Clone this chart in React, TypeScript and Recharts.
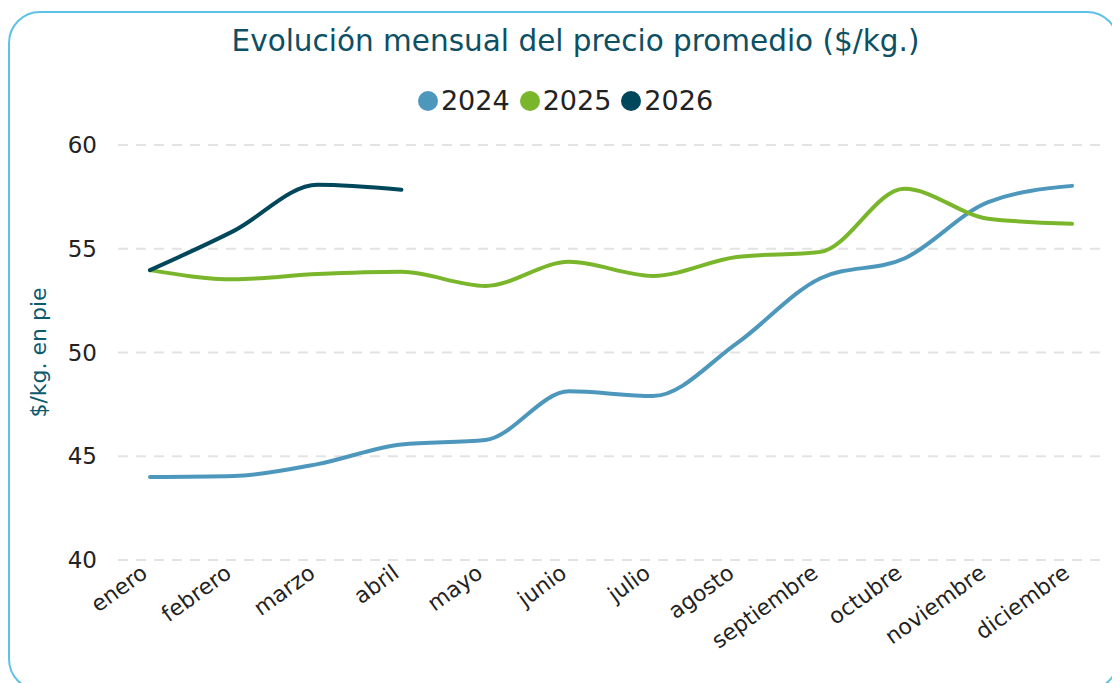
import {LineChart, Line, XAxis, YAxis, CartesianGrid, Legend} from 'recharts';

const MONTHS = [
  'enero', 'febrero', 'marzo', 'abril', 'mayo', 'junio',
  'julio', 'agosto', 'septiembre', 'octubre', 'noviembre', 'diciembre'
];

const PRICES_2024 = [44.0, 44.05, 44.62, 45.57, 45.78, 48.13, 47.9, 50.44, 53.58, 54.53, 57.25, 58.03];
const PRICES_2025 = [53.97, 53.53, 53.78, 53.89, 53.21, 54.37, 53.69, 54.6, 54.85, 57.89, 56.45, 56.2];
const PRICES_2026 = [53.97, 55.86, 58.08, 57.84];

const Y_TICKS = [40, 45, 50, 55, 60];

const SERIES = [
  {key: '2024', color: '#4d97bd'},
  {key: '2025', color: '#7ab62b'},
  {key: '2026', color: '#00475c'}
];

const FONT = '"DejaVu Sans", Verdana, sans-serif';

const data = MONTHS.map((month, i) => ({
  month,
  '2024': PRICES_2024[i],
  '2025': PRICES_2025[i],
  '2026': i < PRICES_2026.length ? PRICES_2026[i] : null
}));

const MonthTick = (props: any) => {
  const {x, y, payload} = props;
  return (
    <text
      x={0}
      y={0}
      textAnchor="end"
      transform={`translate(${x - 1},${y + 8}) rotate(-36)`}
      fill="#222"
      fontSize={22}
      fontFamily={FONT}
    >
      {payload.value}
    </text>
  );
};

const LegendContent = () => (
  <div style={{display: 'flex', justifyContent: 'center', alignItems: 'center', fontFamily: FONT, fontSize: 27, color: '#222', paddingLeft: 4}}>
    {SERIES.map(s => (
      <span key={s.key} style={{display: 'flex', alignItems: 'center', margin: '0 5px'}}>
        <span style={{width: 20, height: 20, borderRadius: 10, background: s.color, display: 'inline-block', marginRight: 3}} />
        {s.key}
      </span>
    ))}
  </div>
);

export default function App() {
  return (
    <div
      style={{
        position: 'relative',
        marginTop: 3,
        width: 1107,
        height: 676,
        border: '2px solid #5ec1e6',
        borderRadius: 32,
        background: '#fff'
      }}
    >
      <style>{'body{margin:8px;overflow:hidden;}'}</style>
      <div
        style={{
          position: 'absolute',
          top: 11,
          left: 12,
          width: '100%',
          textAlign: 'center',
          fontFamily: FONT,
          fontSize: 29.5,
          lineHeight: '35px',
          color: '#0d4f63'
        }}
      >
        Evolución mensual del precio promedio ($/kg.)
      </div>
      <LineChart width={1107} height={672} data={data} margin={{top: 132, right: 11, bottom: 25, left: 20}}>
        <CartesianGrid vertical={false} stroke="#e3e3e3" strokeDasharray="10 8" strokeWidth={2} />
        <XAxis
          dataKey="month"
          interval={0}
          tick={<MonthTick />}
          tickLine={false}
          axisLine={false}
          height={100}
          padding={{left: 32, right: 34}}
        />
        <YAxis
          domain={[40, 60]}
          ticks={Y_TICKS}
          tickLine={false}
          axisLine={false}
          width={88}
          tickMargin={15}
          tick={{fill: '#222', fontSize: 23, fontFamily: FONT}}
          label={{
            value: '$/kg. en pie',
            angle: -90,
            position: 'insideLeft',
            offset: 0,
            dx: 8,
            style: {textAnchor: 'middle', fill: '#0d5a6e', fontSize: 22, fontFamily: FONT}
          }}
        />
        <Legend verticalAlign="middle" content={<LegendContent />} wrapperStyle={{top: 72, left: 0, width: '100%'}} />
        {SERIES.map(s => (
          <Line
            key={s.key}
            type="monotone"
            dataKey={s.key}
            stroke={s.color}
            strokeWidth={4}
            dot={false}
            activeDot={false}
            strokeLinecap="round"
            isAnimationActive={false}
          />
        ))}
      </LineChart>
    </div>
  );
}
